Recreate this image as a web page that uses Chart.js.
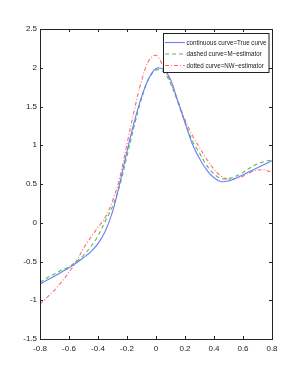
<!DOCTYPE html>
<html lang="en">
<head>
    <meta charset="UTF-8">
    <title>True curve vs estimators</title>
    <script src="https://cdn.jsdelivr.net/npm/chart.js"></script>
    <style>
        html, body { margin: 0; padding: 0; background: #fff; }
        #wrap { width: 300px; height: 382px; }
    </style>
</head>
<body>
    <div id="wrap"><canvas id="plot"></canvas></div>
    <script>
        // values, every 0.05
        const xs = [-0.8, -0.75, -0.7, -0.65, -0.6, -0.55, -0.5, -0.45, -0.4, -0.35, -0.3, -0.25, -0.2, -0.15,
            -0.1, -0.05, 0, 0.05, 0.1, 0.15, 0.2, 0.25, 0.3, 0.35, 0.4, 0.45, 0.5, 0.55, 0.6, 0.65, 0.7, 0.75, 0.8];
        const trueCurve = [-0.79, -0.74, -0.69, -0.635, -0.58, -0.52, -0.45, -0.375, -0.27, -0.11, 0.14, 0.51, 0.92, 1.30,
            1.62, 1.86, 1.99, 1.98, 1.85, 1.57, 1.29, 1.02, 0.83, 0.68, 0.58, 0.53, 0.54, 0.575, 0.62, 0.665, 0.71, 0.755, 0.80];
        const mEstimator = [-0.77, -0.71, -0.66, -0.61, -0.57, -0.50, -0.42, -0.31, -0.17, 0.02, 0.21, 0.48, 0.86, 1.25,
            1.60, 1.86, 1.97, 1.95, 1.80, 1.56, 1.30, 1.06, 0.90, 0.74, 0.63, 0.57, 0.57, 0.60, 0.65, 0.71, 0.76, 0.79, 0.81];
        const nwEstimator = [-1.05, -0.96, -0.87, -0.76, -0.64, -0.50, -0.33, -0.19, -0.06, 0.07, 0.28, 0.58, 1.02, 1.45,
            1.83, 2.09, 2.16, 2.02, 1.82, 1.58, 1.33, 1.13, 0.97, 0.82, 0.69, 0.60, 0.56, 0.57, 0.60, 0.65, 0.68, 0.68, 0.65];

        const xTicks = [-0.8, -0.6, -0.4, -0.2, 0, 0.2, 0.4, 0.6, 0.8];
        const yTicks = [-1.5, -1, -0.5, 0, 0.5, 1, 1.5, 2, 2.5];
        const legendLabels = ["continuous curve=True curve", "dashed curve=M\u2212estimator", "dotted curve=NW\u2212estimator"];

        const FONT = "'Liberation Sans', Arial, sans-serif";

        function pts(ys) {
            return xs.map((x, i) => ({ x: x, y: ys[i] }));
        }

        // box, inward ticks and the legend, MATLAB style
        const matlabFrame = {
            id: "matlabFrame",
            afterDraw(chart) {
                const ctx = chart.ctx;
                const a = chart.chartArea;
                const sx = chart.scales.x, sy = chart.scales.y;
                ctx.save();
                ctx.strokeStyle = "#222";
                ctx.lineWidth = 1;
                ctx.setLineDash([]);
                ctx.strokeRect(Math.round(a.left) + 0.5, Math.round(a.top) + 0.5,
                    Math.round(a.right - a.left), Math.round(a.bottom - a.top));
                ctx.beginPath();
                xTicks.forEach(v => {
                    const p = Math.round(sx.getPixelForValue(v)) + 0.5;
                    ctx.moveTo(p, a.bottom); ctx.lineTo(p, a.bottom - 3);
                    ctx.moveTo(p, a.top); ctx.lineTo(p, a.top + 3);
                });
                yTicks.forEach(v => {
                    const p = Math.round(sy.getPixelForValue(v)) + 0.5;
                    ctx.moveTo(a.left, p); ctx.lineTo(a.left + 3, p);
                    ctx.moveTo(a.right, p); ctx.lineTo(a.right - 3, p);
                });
                ctx.stroke();

                // legend box
                const bx = 163.5, by = 33.5, bw = 105.5, bh = 39;
                ctx.fillStyle = "#fff";
                ctx.fillRect(bx, by, bw, bh);
                ctx.strokeStyle = "#222";
                ctx.strokeRect(bx, by, bw, bh);
                const rows = [42.5, 54, 65.5];
                ctx.font = "7.5px " + FONT;
                const squeeze = 80 / ctx.measureText(legendLabels[0]).width;
                chart.data.datasets.forEach((ds, i) => {
                    ctx.strokeStyle = ds.borderColor;
                    ctx.lineWidth = ds.borderWidth;
                    ctx.setLineDash(ds.borderDash || []);
                    ctx.beginPath();
                    ctx.moveTo(165, rows[i]);
                    ctx.lineTo(185, rows[i]);
                    ctx.stroke();
                    ctx.setLineDash([]);
                    ctx.save();
                    ctx.translate(186.5, rows[i]);
                    ctx.scale(squeeze, 1);
                    ctx.fillStyle = "#222";
                    ctx.textBaseline = "middle";
                    ctx.fillText(legendLabels[i], 0, 0);
                    ctx.restore();
                });
                ctx.restore();
            }
        };

        new Chart(document.getElementById("plot"), {
            type: "scatter",
            data: {
                datasets: [
                    {
                        label: legendLabels[0],
                        data: pts(trueCurve),
                        showLine: true,
                        borderColor: "#6b7cff",
                        borderWidth: 1.1,
                        pointRadius: 0,
                        tension: 0.35
                    },
                    {
                        label: legendLabels[1],
                        data: pts(mEstimator),
                        showLine: true,
                        borderColor: "#4fbf4f",
                        borderWidth: 1.1,
                        borderDash: [4, 3],
                        pointRadius: 0,
                        tension: 0.35
                    },
                    {
                        label: legendLabels[2],
                        data: pts(nwEstimator),
                        showLine: true,
                        borderColor: "#ff6b6b",
                        borderWidth: 1.1,
                        borderDash: [4, 2, 1, 2],
                        pointRadius: 0,
                        tension: 0.35
                    }
                ]
            },
            options: {
                responsive: true,
                maintainAspectRatio: false,
                animation: false,
                layout: { padding: { left: 0, right: 28, top: 29, bottom: 0 } },
                plugins: {
                    legend: { display: false },
                    tooltip: { enabled: false }
                },
                scales: {
                    x: {
                        type: "linear",
                        min: -0.8,
                        max: 0.8,
                        afterBuildTicks(scale) { scale.ticks = xTicks.map(v => ({ value: v })); },
                        afterFit(scale) { scale.height = 43; },
                        grid: { display: false, drawTicks: false },
                        border: { display: false },
                        ticks: {
                            padding: 5,
                            color: "#222",
                            font: { family: FONT, size: 8 },
                            callback: v => String(Math.round(v * 10) / 10)
                        }
                    },
                    y: {
                        type: "linear",
                        min: -1.5,
                        max: 2.5,
                        afterBuildTicks(scale) { scale.ticks = yTicks.map(v => ({ value: v })); },
                        afterFit(scale) { scale.width = 40; },
                        grid: { display: false, drawTicks: false },
                        border: { display: false },
                        ticks: {
                            padding: 3,
                            color: "#222",
                            font: { family: FONT, size: 8 },
                            callback: v => String(v)
                        }
                    }
                }
            },
            plugins: [matlabFrame]
        });
    </script>
</body>
</html>
